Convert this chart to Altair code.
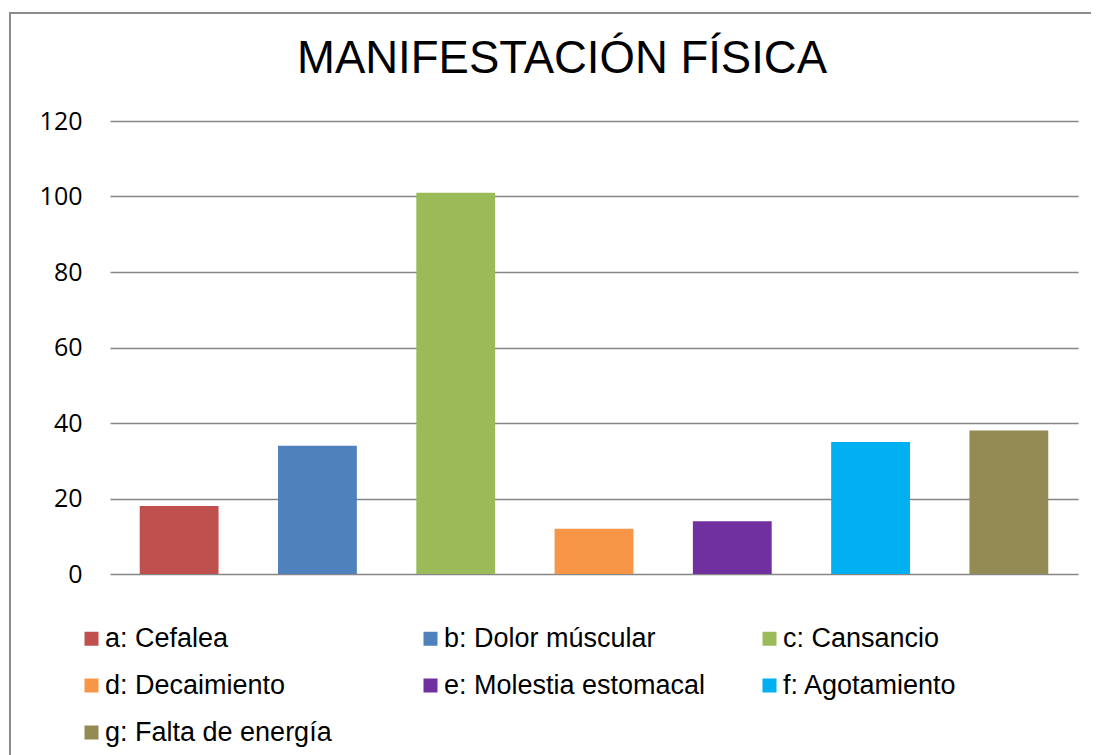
import altair as alt
import pandas as pd

categories = ["a: Cefalea", "b: Dolor múscular", "c: Cansancio", "d: Decaimiento",
              "e: Molestia estomacal", "f: Agotamiento", "g: Falta de energía"]
values = [18, 34, 101, 12, 14, 35, 38]
colors = ["#C0504D", "#4F81BD", "#9BBB59", "#F79646", "#7030A0", "#00B0F0", "#948A54"]
y_ticks = [0, 20, 40, 60, 80, 100, 120]

df = pd.DataFrame({"cat": categories, "val": values})

W, H = 968, 453

bars = alt.Chart(df).mark_bar().encode(
    x=alt.X("cat:N", sort=categories,
            scale=alt.Scale(paddingInner=0.43, paddingOuter=0.215),
            axis=None),
    y=alt.Y("val:Q", scale=alt.Scale(domain=[0, 120], nice=False),
            axis=alt.Axis(values=y_ticks, title=None, domain=False, ticks=False,
                          grid=True, gridColor="#868686", gridWidth=1.6,
                          labelFont="Open Sans", labelFontSize=25, labelColor="#000000",
                          labelPadding=28)),
    color=alt.Color("cat:N", sort=categories,
                    scale=alt.Scale(domain=categories, range=colors),
                    legend=alt.Legend(title=None, orient="none", legendX=-32, legendY=504,
                                      direction="horizontal",
                                      columns=3, gridAlign="all", columnPadding=50,
                                      rowPadding=19, padding=0,
                                      symbolType="square", symbolSize=196,
                                      symbolStrokeWidth=0, labelOffset=0,
                                      labelFont="Liberation Sans", labelFontSize=27,
                                      labelColor="#000000", labelLimit=500)),
)

frame = alt.Chart(df).mark_rect(fill=None, stroke="#8c8c8c", strokeWidth=2, clip=False).encode(
    x=alt.value(-100), x2=alt.value(W + 200),
    y=alt.value(-108), y2=alt.value(H + 400),
)

chart = alt.layer(frame, bars).properties(
    width=W, height=H,
    title=alt.TitleParams("MANIFESTACIÓN FÍSICA", font="Liberation Sans", fontSize=45.5,
                          fontWeight="normal", color="#000000", anchor="middle",
                          baseline="alphabetic", dx=-32, dy=110),
    autosize=alt.AutoSizeParams(type="none"),
    padding={"left": 102, "top": 113, "right": 13, "bottom": 181},
).configure_view(stroke=None)

chart.save("out.html", embed_options={"renderer": "svg", "actions": False})
